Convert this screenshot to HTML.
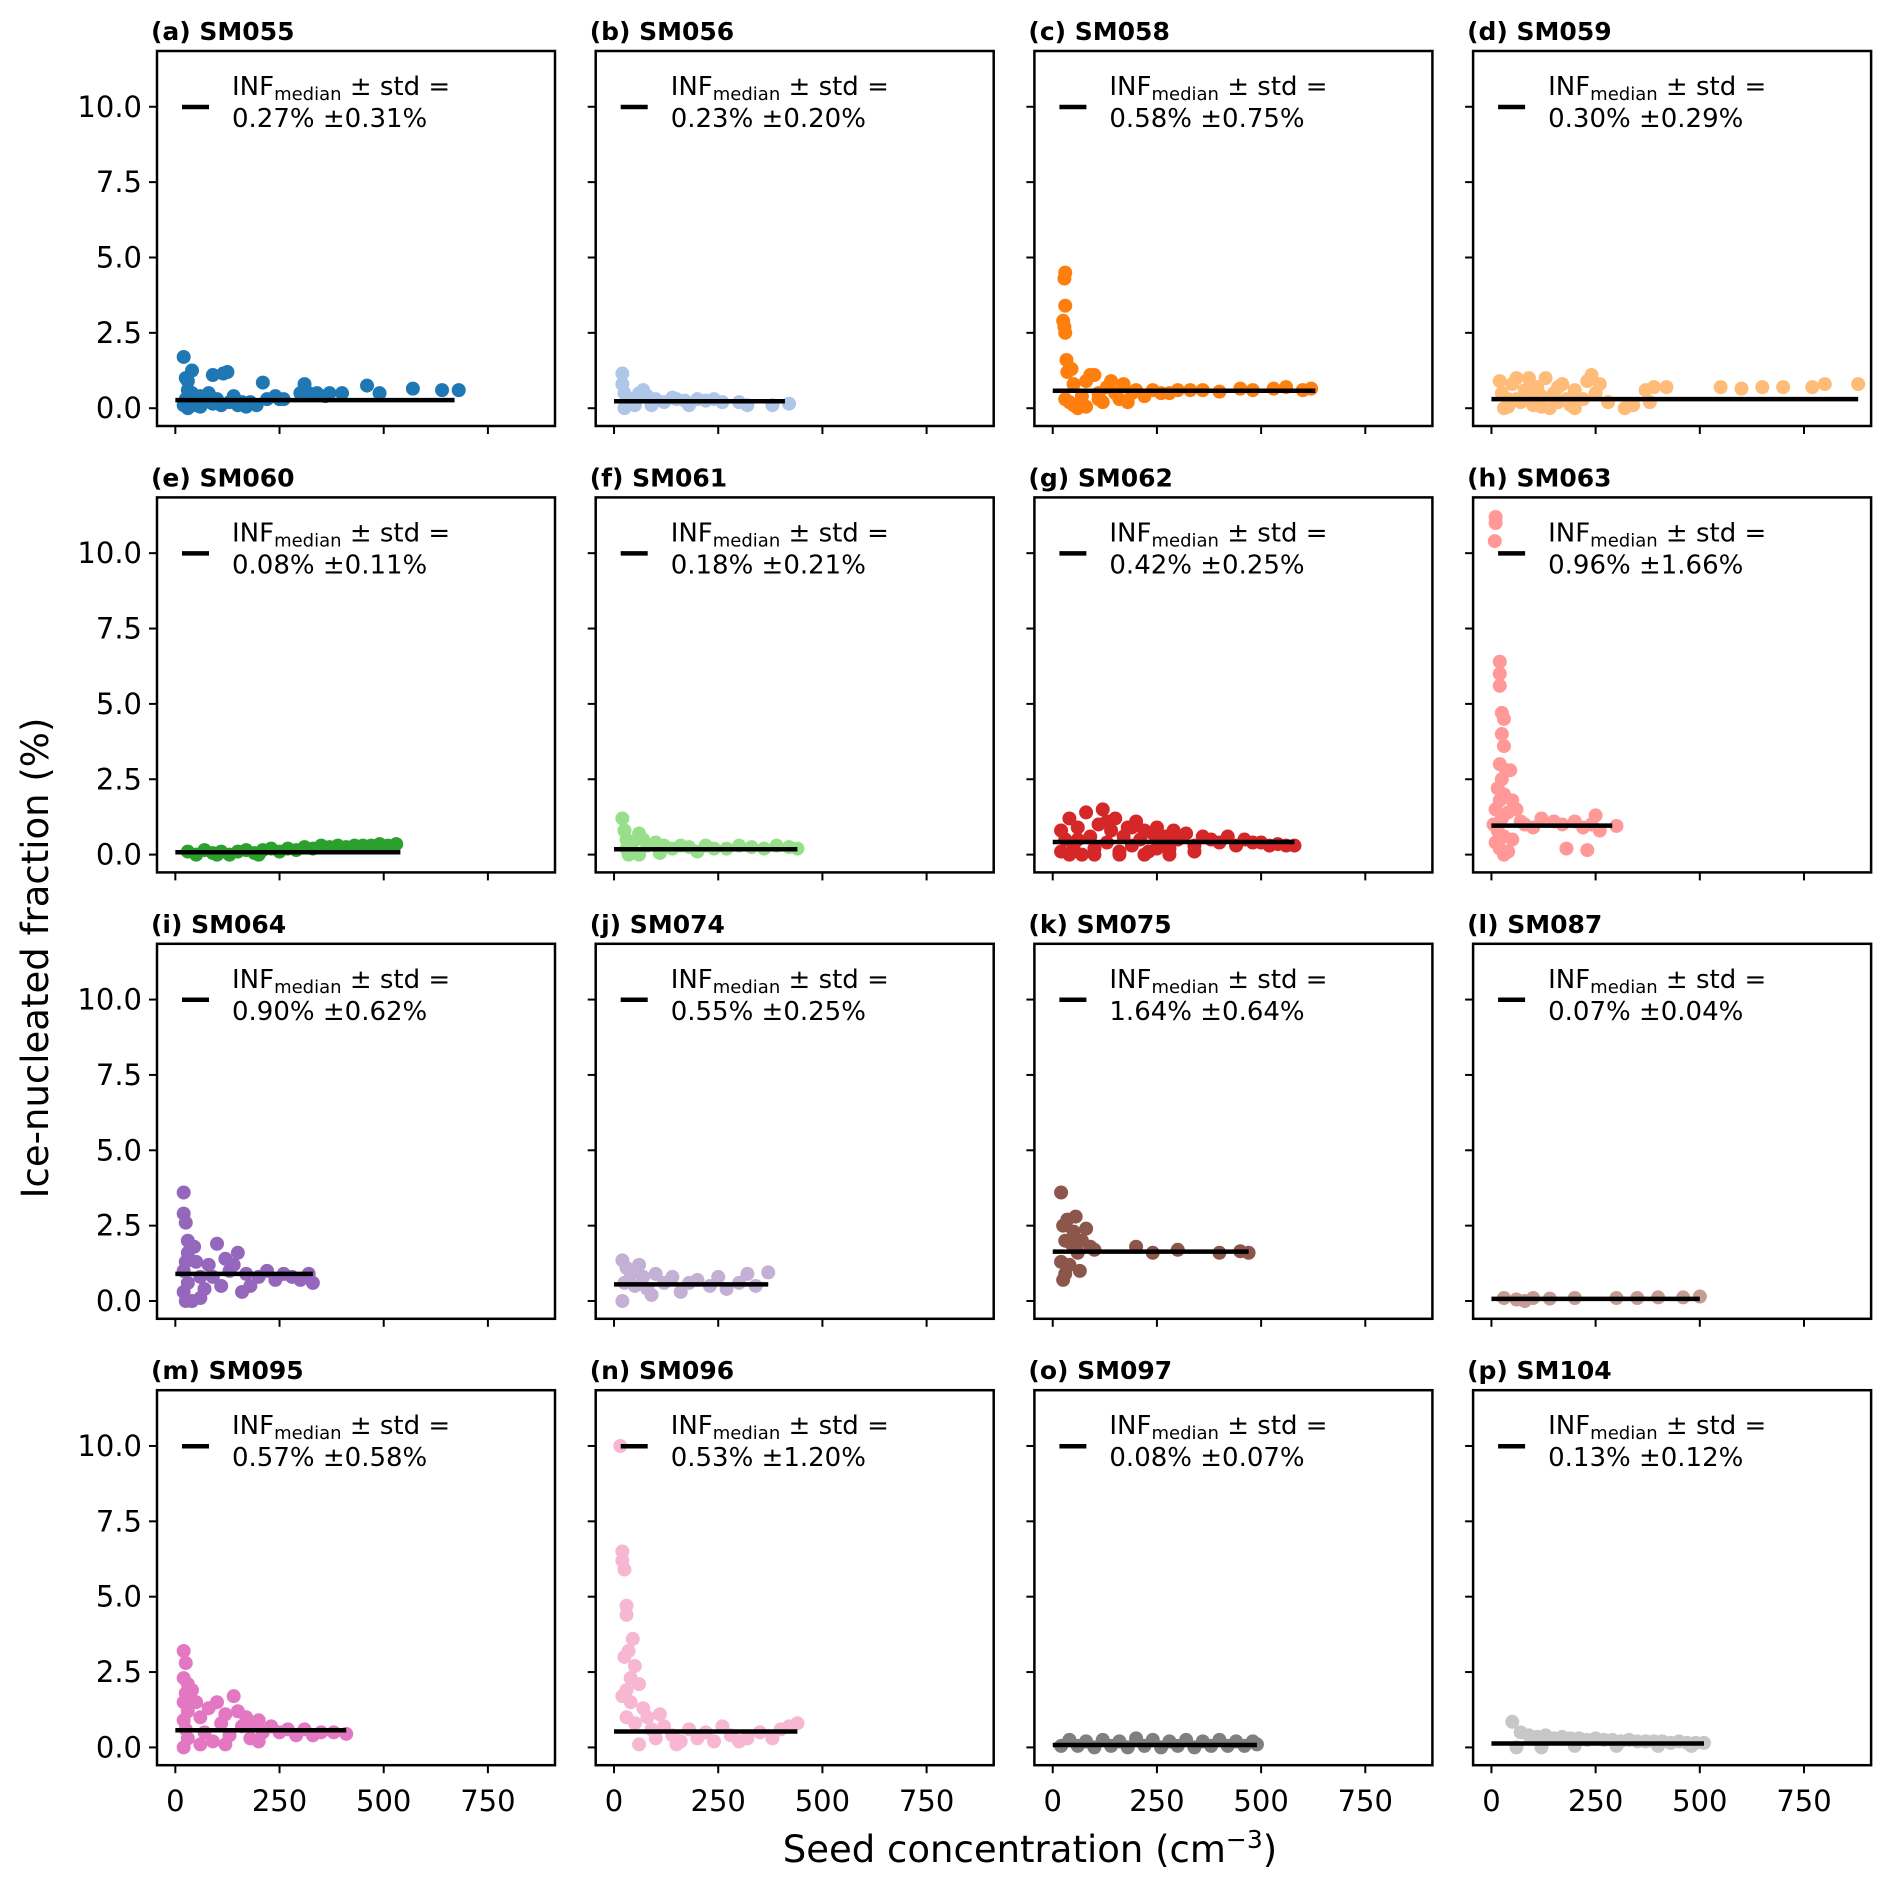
<!DOCTYPE html>
<html><head><meta charset="utf-8">
<style>
html,body{margin:0;padding:0;background:#fff;}
svg{display:block;font-family:"DejaVu Sans","Liberation Sans",sans-serif;}
</style></head>
<body>
<svg id="chart" width="1892" height="1887" viewBox="0 0 1892 1887" xmlns="http://www.w3.org/2000/svg">
<rect x="0" y="0" width="1892" height="1887" fill="#fff"/>
<text transform="translate(48,958) rotate(-90)" text-anchor="middle" font-size="37">Ice-nucleated fraction (%)</text>
<text x="1030" y="1862" text-anchor="middle" font-size="37">Seed concentration (cm<tspan font-size="25" dy="-14">−3</tspan><tspan dy="14">)</tspan></text>
</svg>
<script>
const panelLabels = ["(a) SM055","(b) SM056","(c) SM058","(d) SM059","(e) SM060","(f) SM061","(g) SM062","(h) SM063","(i) SM064","(j) SM074","(k) SM075","(l) SM087","(m) SM095","(n) SM096","(o) SM097","(p) SM104"];
const medians = [0.27,0.23,0.58,0.30,0.08,0.18,0.42,0.96,0.90,0.55,1.64,0.07,0.57,0.53,0.08,0.13];
const stds = [0.31,0.20,0.75,0.29,0.11,0.21,0.25,1.66,0.62,0.25,0.64,0.04,0.58,1.20,0.07,0.12];
const lineEnds = [670,410,630,880,540,440,580,290,330,370,470,500,410,440,490,510];
const colors = ["#1f77b4","#aec7e8","#ff7f0e","#ffbb78","#2ca02c","#98df8a","#d62728","#ff9896","#9467bd","#c5b0d5","#8c564b","#c49c94","#e377c2","#f7b6d2","#7f7f7f","#c7c7c7"];
const xTicks = [0,250,500,750];
const yTicks = [0,2.5,5,7.5,10];
const yTickLabels = ["0.0","2.5","5.0","7.5","10.0"];
const pA=[[20,1.7],[25,1.0],[30,0.9],[30,0.6],[25,0.3],[20,0.1],[30,0.0],[35,0.2],[40,1.25],[40,0.5],[45,0.3],[50,0.1],[60,0.4],[70,0.2],[80,0.5],[90,1.1],[100,0.3],[110,0.1],[115,1.15],[125,1.2],[130,0.2],[140,0.4],[150,0.1],[160,0.2],[180,0.2],[195,0.1],[210,0.85],[220,0.3],[240,0.4],[250,0.3],[260,0.3],[300,0.5],[310,0.8],[320,0.5],[340,0.5],[360,0.4],[370,0.5],[400,0.5],[460,0.75],[490,0.5],[570,0.65],[640,0.6],[680,0.6],[60,0.05],[90,0.15],[170,0.05]];
const pB=[[20,1.15],[20,0.8],[25,0.5],[30,0.2],[25,0.0],[40,0.3],[60,0.5],[70,0.6],[80,0.4],[100,0.3],[120,0.2],[140,0.35],[150,0.3],[170,0.25],[200,0.3],[220,0.25],[240,0.3],[260,0.2],[300,0.2],[320,0.1],[380,0.1],[420,0.15],[50,0.1],[90,0.1],[180,0.1]];
const pC=[[30,4.5],[28,4.3],[30,3.4],[25,2.9],[28,2.7],[30,2.5],[33,1.6],[35,1.2],[45,1.3],[50,0.8],[30,0.3],[40,0.2],[50,0.1],[60,0.0],[70,0.4],[80,0.9],[90,1.1],[100,1.1],[110,0.5],[120,0.2],[130,0.7],[140,0.9],[150,0.5],[160,0.3],[170,0.8],[180,0.2],[190,0.5],[200,0.6],[220,0.4],[240,0.6],[260,0.5],[280,0.5],[300,0.6],[330,0.6],[360,0.6],[400,0.55],[450,0.65],[480,0.6],[530,0.65],[560,0.7],[600,0.6],[620,0.65],[80,0.05],[110,0.3]];
const pD=[[20,0.9],[25,0.5],[30,0.0],[40,0.3],[50,0.8],[60,1.0],[70,0.2],[80,0.6],[90,1.0],[100,0.1],[110,0.7],[120,0.4],[130,1.0],[140,0.0],[150,0.5],[160,0.2],[170,0.8],[180,0.3],[190,0.1],[200,0.6],[220,0.3],[230,0.9],[240,1.1],[250,0.5],[260,0.8],[280,0.2],[320,0.0],[340,0.1],[370,0.6],[380,0.2],[390,0.7],[420,0.7],[550,0.7],[600,0.65],[650,0.7],[700,0.7],[770,0.7],[800,0.8],[880,0.8],[40,0.05],[120,0.05],[200,0.0],[60,0.3],[100,0.5],[160,0.7]];
const pE=[[30,0.1],[50,0.0],[70,0.15],[90,0.05],[110,0.1],[130,0.0],[150,0.1],[170,0.15],[190,0.05],[210,0.15],[230,0.2],[250,0.1],[270,0.2],[290,0.15],[310,0.25],[330,0.2],[350,0.3],[370,0.25],[390,0.3],[410,0.25],[430,0.3],[450,0.3],[470,0.3],[490,0.35],[510,0.3],[530,0.35],[100,0.0],[200,0.0]];
const pF=[[20,1.2],[25,0.8],[30,0.5],[30,0.2],[35,0.0],[45,0.4],[60,0.7],[70,0.5],[80,0.3],[100,0.4],[120,0.3],[140,0.2],[160,0.3],[180,0.25],[200,0.1],[220,0.3],[240,0.2],[270,0.2],[300,0.3],[330,0.25],[360,0.2],[390,0.3],[420,0.25],[440,0.2],[60,0.0],[110,0.05]];
const pG=[[20,0.8],[20,0.1],[30,0.5],[40,1.2],[50,0.3],[60,0.9],[70,0.0],[80,1.4],[90,0.6],[100,0.2],[110,1.0],[120,1.5],[130,0.4],[140,0.8],[150,1.2],[160,0.1],[170,0.6],[180,0.9],[190,0.3],[200,1.1],[210,0.5],[220,0.8],[230,0.1],[240,0.7],[250,0.9],[260,0.4],[270,0.6],[280,0.2],[290,0.8],[300,0.5],[320,0.7],[340,0.3],[360,0.6],[380,0.5],[400,0.4],[420,0.6],[440,0.3],[460,0.5],[480,0.4],[500,0.4],[520,0.3],[540,0.35],[560,0.3],[580,0.3],[40,0.0],[100,0.0],[160,0.0],[220,0.0],[280,0.0],[340,0.1],[60,0.5],[130,1.1],[190,0.9],[250,0.2]];
const pH=[[10,11.2],[10,11.0],[8,10.4],[20,6.4],[20,6.0],[20,5.6],[25,4.7],[30,4.5],[25,4.0],[30,3.6],[20,3.0],[35,2.8],[25,2.5],[15,2.2],[30,2.0],[20,1.8],[10,1.5],[40,1.4],[25,1.2],[5,1.0],[15,0.8],[30,0.6],[10,0.4],[20,0.2],[30,0.0],[50,0.5],[60,1.5],[70,1.1],[80,1.0],[100,0.9],[120,1.2],[150,1.1],[170,1.0],[200,1.1],[220,0.9],[240,1.0],[250,1.3],[260,0.8],[300,0.95],[180,0.2],[230,0.15],[40,0.1],[50,1.8],[45,2.8]];
const pI=[[20,3.6],[20,2.9],[25,2.6],[30,2.0],[30,1.6],[25,1.3],[20,1.0],[30,0.6],[20,0.3],[25,0.0],[40,0.0],[45,1.8],[50,1.3],[60,0.8],[70,0.4],[80,1.2],[90,0.8],[100,1.9],[110,0.5],[120,1.4],[130,1.0],[140,1.2],[150,1.6],[160,0.3],[170,0.9],[180,0.5],[200,0.8],[220,1.0],[240,0.7],[260,0.9],[280,0.8],[300,0.7],[320,0.9],[330,0.6],[60,0.1]];
const pJ=[[20,1.35],[20,0.0],[25,0.6],[30,1.1],[40,0.9],[50,0.5],[60,1.2],[70,0.8],[80,0.4],[100,0.9],[120,0.6],[140,0.8],[160,0.3],[180,0.6],[200,0.7],[230,0.5],[250,0.8],[270,0.4],[300,0.6],[320,0.9],[340,0.5],[370,0.95],[90,0.2]];
const pK=[[20,3.6],[25,2.5],[30,2.0],[35,2.7],[20,1.3],[30,0.9],[25,0.7],[40,1.2],[50,2.3],[55,2.8],[60,1.6],[65,1.0],[70,2.0],[80,2.4],[90,1.8],[100,1.7],[200,1.8],[240,1.6],[300,1.7],[400,1.6],[450,1.65],[470,1.6],[45,1.9]];
const pL=[[30,0.1],[60,0.05],[100,0.1],[140,0.08],[200,0.1],[300,0.1],[350,0.1],[400,0.12],[460,0.12],[500,0.15],[80,0.0]];
const pM=[[20,3.2],[25,2.8],[20,2.3],[30,2.1],[25,1.8],[20,1.5],[30,1.2],[20,0.9],[25,0.6],[30,0.3],[20,0.0],[40,1.9],[50,1.5],[60,1.0],[70,0.5],[80,1.3],[90,0.2],[100,1.5],[110,0.8],[120,1.1],[130,0.4],[140,1.7],[150,1.2],[160,0.7],[170,1.0],[180,0.3],[190,0.8],[200,0.9],[210,0.5],[230,0.7],[250,0.5],[270,0.6],[290,0.4],[310,0.6],[330,0.4],[350,0.5],[380,0.5],[410,0.45],[60,0.1],[120,0.1],[200,0.2]];
const pN=[[15,10.0],[20,6.5],[20,6.2],[25,5.9],[30,4.7],[30,4.4],[25,3.0],[35,3.2],[45,3.6],[50,2.7],[40,2.3],[30,1.9],[60,2.1],[20,1.7],[40,1.5],[70,1.3],[30,1.0],[50,0.8],[80,1.0],[90,0.6],[100,0.3],[110,1.1],[120,0.7],[140,0.4],[160,0.2],[180,0.6],[200,0.3],[220,0.5],[240,0.2],[260,0.7],[280,0.4],[300,0.2],[320,0.3],[350,0.5],[380,0.3],[400,0.6],[420,0.7],[440,0.8],[60,0.1],[150,0.1]];
const pO=[[20,0.05],[40,0.25],[60,0.05],[80,0.2],[100,0.0],[120,0.25],[140,0.05],[160,0.2],[180,0.0],[200,0.3],[220,0.05],[240,0.25],[260,0.0],[280,0.2],[300,0.05],[320,0.25],[340,0.0],[360,0.2],[380,0.05],[400,0.25],[420,0.05],[440,0.2],[460,0.05],[480,0.2],[490,0.1]];
const pP=[[50,0.85],[70,0.5],[90,0.4],[110,0.35],[130,0.4],[150,0.3],[170,0.35],[190,0.3],[210,0.3],[230,0.25],[250,0.3],[270,0.25],[290,0.25],[310,0.2],[330,0.25],[350,0.2],[370,0.2],[390,0.2],[410,0.2],[430,0.15],[450,0.2],[470,0.15],[490,0.15],[510,0.15],[60,0.0],[120,0.0],[200,0.05],[300,0.05],[400,0.05],[480,0.05]];
const points=[pA,pB,pC,pD,pE,pF,pG,pH,pI,pJ,pK,pL,pM,pN,pO,pP];

const NS="http://www.w3.org/2000/svg";
const svg=document.getElementById('chart');
const PW=398,PH=375,X0=157,Y0=51,DX=438.7,DY=446.4;
const XMIN=-44,XMAX=911,YMIN=-0.59,YMAX=11.85;
function mk(tag,attrs,parent){const e=document.createElementNS(NS,tag);for(const k in attrs)e.setAttribute(k,attrs[k]);(parent||svg).appendChild(e);return e;}
for(let i=0;i<16;i++){
  const col=i%4,row=Math.floor(i/4);
  const L=X0+col*DX,T=Y0+row*DY;
  const sx=v=>L+(v-XMIN)/(XMAX-XMIN)*PW;
  const sy=v=>T+PH-(v-YMIN)/(YMAX-YMIN)*PH;
  const g=mk('g',{});
  
  
  const t=mk('text',{x:L-6,y:T-11,'font-size':25,'font-weight':'bold'},g);
  t.textContent=panelLabels[i];
  
  
  for(const p of points[i]){
    const c=mk('circle',{cx:sx(p[0]),cy:sy(p[1]),r:7,fill:colors[i]},g);
    
    
  }
  const ml=mk('line',{x1:sx(0),x2:sx(lineEnds[i]),y1:sy(medians[i]),y2:sy(medians[i]),stroke:'#000','stroke-width':4.5},g);
  
  
  const fr=mk('rect',{x:L,y:T,width:PW,height:PH,fill:'none',stroke:'#000','stroke-width':2.5},g);
  
  
  xTicks.forEach(v=>{
    mk('line',{x1:sx(v),x2:sx(v),y1:T+PH,y2:T+PH+8,stroke:'#000','stroke-width':2},g);
    if(row===3){const tl=mk('text',{x:sx(v),y:T+PH+46,'font-size':29,'text-anchor':'middle'},g);tl.textContent=String(v);
      
      }
  });
  yTicks.forEach((v,k)=>{
    mk('line',{x1:L-8,x2:L,y1:sy(v),y2:sy(v),stroke:'#000','stroke-width':2},g);
    if(col===0){const tl=mk('text',{x:L-15,y:sy(v)+10,'font-size':29,'text-anchor':'end'},g);tl.textContent=yTickLabels[k];
      
      }
  });
  const lg=mk('g',{},g);
  
  
  mk('line',{x1:L+25,x2:L+52,y1:T+56,y2:T+56,stroke:'#000','stroke-width':4.5},lg);
  const l1=mk('text',{x:L+75,y:T+44,'font-size':26},lg);
  l1.innerHTML='INF<tspan font-size="18" dy="5">median</tspan><tspan dy="-5"> ± std =</tspan>';
  const l2=mk('text',{x:L+75,y:T+76,'font-size':26},lg);
  l2.textContent=medians[i].toFixed(2)+'% ±'+stds[i].toFixed(2)+'%';
}
</script>
</body></html>
